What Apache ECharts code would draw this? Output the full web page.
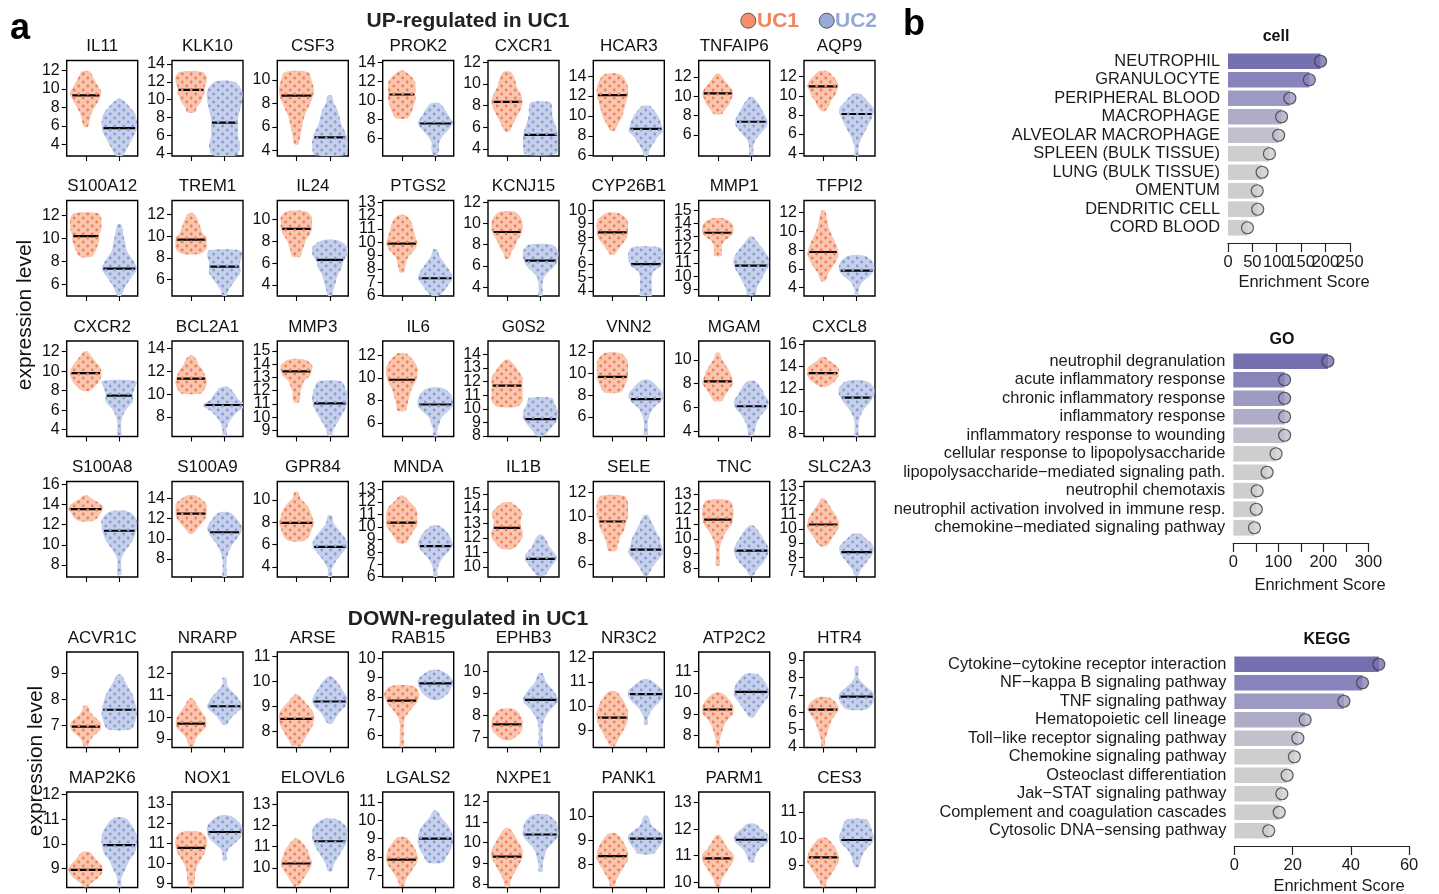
<!DOCTYPE html>
<html>
<head>
<meta charset="utf-8">
<script src="https://cdn.jsdelivr.net/npm/echarts@6/dist/echarts.min.js"></script>
<style>
  html, body { margin: 0; padding: 0; background: #fff; }
  #chart { width: 1439px; height: 894px; }
</style>
</head>
<body>
<div id="chart"></div>
<script>
// ---------- panel a: expression per gene ----------
// Each group entry: [min, max, median, width profile (9 steps, bottom -> top, base-36 digits)]
const upGenes = [
  'IL11', 'KLK10', 'CSF3', 'PROK2', 'CXCR1', 'HCAR3', 'TNFAIP6', 'AQP9',
  'S100A12', 'TREM1', 'IL24', 'PTGS2', 'KCNJ15', 'CYP26B1', 'MMP1', 'TFPI2',
  'CXCR2', 'BCL2A1', 'MMP3', 'IL6', 'G0S2', 'VNN2', 'MGAM', 'CXCL8',
  'S100A8', 'S100A9', 'GPR84', 'MNDA', 'IL1B', 'SELE', 'TNC', 'SLC2A3'
];
const upAxisRange = [
  [2.74, 13.08], [3.73, 14.37], [3.51, 11.64], [4.13, 14.18], [3.35, 12.16], [5.97, 15.58], [3.8, 13.7], [3.7, 13.7],
  [4.97, 13.3], [4.5, 13.3], [2.98, 11.76], [5.97, 13.13], [3.18, 12.16], [3.63, 10.72], [8.5, 15.75], [3.1, 13.3],
  [3.3, 13.1], [6.3, 14.64], [8.55, 15.74], [4.8, 13.3], [7.97, 14.98], [4.2, 13.0], [3.55, 11.6], [7.7, 16.3],
  [6.8, 16.3], [6.2, 15.7], [3.1, 11.65], [5.97, 13.65], [9.3, 15.9], [4.9, 12.9], [7.4, 13.9], [6.6, 13.33]
];
const upTicks = [
  [4, 6, 8, 10, 12], [4, 6, 8, 10, 12, 14], [4, 6, 8, 10], [6, 8, 10, 12, 14], [4, 6, 8, 10, 12], [6, 8, 10, 12, 14], [6, 8, 10, 12], [4, 6, 8, 10, 12],
  [6, 8, 10, 12], [6, 8, 10, 12], [4, 6, 8, 10], [6, 7, 8, 9, 10, 11, 12, 13], [4, 6, 8, 10, 12], [4, 5, 6, 7, 8, 9, 10], [9, 10, 11, 12, 13, 14, 15], [4, 6, 8, 10, 12],
  [4, 6, 8, 10, 12], [8, 10, 12, 14], [9, 10, 11, 12, 13, 14, 15], [6, 8, 10, 12], [8, 9, 10, 11, 12, 13, 14], [6, 8, 10, 12], [4, 6, 8, 10], [8, 10, 12, 14, 16],
  [8, 10, 12, 14, 16], [8, 10, 12, 14], [4, 6, 8, 10], [6, 7, 8, 9, 10, 11, 12, 13], [10, 11, 12, 13, 14, 15], [6, 8, 10, 12], [8, 9, 10, 11, 12, 13], [7, 8, 9, 10, 11, 12, 13]
];
const upUC1 = [
  [5.9, 11.9, 9.3, '123578642'], [8.6, 13.1, 11.1, '235677886'], [4.5, 10.65, 8.65, '123468986'], [8.1, 13.1, 10.6, '356777751'],
  [5.6, 11.1, 8.35, '135787542'], [8.5, 14.2, 12.1, '135678874'], [8.15, 12.3, 10.3, '246787531'], [8.4, 12.6, 11.0, '134678752'],
  [8.4, 12.2, 10.2, '356778886'], [8.4, 12.15, 9.7, '588865431'], [6.6, 10.75, 9.15, '234578885'], [7.75, 12.0, 9.9, '123687652'],
  [6.7, 11.1, 9.2, '124578874'], [6.7, 9.8, 8.35, '135788873'], [11.55, 14.4, 13.3, '222368873'], [4.7, 12.2, 7.8, '136875321'],
  [8.0, 12.0, 9.8, '257887531'], [10.05, 13.35, 11.35, '578876431'], [11.1, 14.35, 13.45, '122347884'], [7.1, 12.2, 9.85, '234578862'],
  [10.15, 13.6, 11.7, '588888641'], [8.25, 11.9, 9.7, '467888874'], [6.55, 10.6, 8.2, '246876421'], [12.2, 14.85, 13.4, '257888631'],
  [12.35, 14.9, 13.55, '367898631'], [10.5, 14.3, 12.5, '135788862'], [6.35, 10.7, 7.95, '478987521'], [8.7, 12.5, 10.35, '246888741'],
  [11.25, 14.45, 12.7, '368877862'], [7.1, 11.7, 9.55, '234678886'], [8.2, 12.6, 11.3, '111247886'], [8.8, 12.1, 10.3, '246887531']
];
const upUC2 = [
  [2.8, 8.9, 5.75, '246899851'], [3.8, 12.0, 7.45, '687778995'], [3.6, 8.65, 5.1, '899865421'], [4.2, 9.7, 7.55, '122479752'],
  [3.5, 8.3, 5.3, '899987665'], [6.0, 11.0, 8.7, '124698752'], [3.9, 9.9, 7.35, '112588641'], [3.7, 10.2, 8.1, '112468962'],
  [5.0, 11.2, 7.35, '136974321'], [4.5, 8.7, 7.2, '124688898'], [3.0, 8.1, 6.3, '123467994'], [6.0, 9.45, 7.3, '257986421'],
  [3.2, 8.0, 6.5, '111258996'], [3.63, 7.25, 6.0, '333348997'], [8.6, 13.0, 10.8, '235799741'], [3.2, 7.4, 5.8, '112479984'],
  [3.4, 9.0, 7.5, '111247789'], [6.4, 10.6, 9.05, '11247b752'], [8.6, 12.7, 11.05, '124689986'], [4.8, 9.1, 7.65, '112369984'],
  [8.0, 10.8, 9.25, '246899876'], [4.3, 9.4, 7.65, '111248962'], [3.6, 8.2, 6.1, '123589752'], [7.7, 12.7, 11.2, '111247995'],
  [7.0, 13.3, 11.4, '111368995'], [6.2, 12.6, 10.65, '111247973'], [3.1, 8.6, 5.8, '113698521'], [6.0, 10.1, 8.45, '112479862'],
  [9.4, 12.2, 10.55, '246886431'], [5.0, 10.1, 7.2, '136987531'], [7.5, 10.9, 9.2, '136898641'], [6.7, 9.65, 8.35, '124689852']
];

const downGenes = [
  'ACVR1C', 'NRARP', 'ARSE', 'RAB15', 'EPHB3', 'NR3C2', 'ATP2C2', 'HTR4',
  'MAP2K6', 'NOX1', 'ELOVL6', 'LGALS2', 'NXPE1', 'PANK1', 'PARM1', 'CES3'
];
const downAxisRange = [
  [6.15, 9.82], [8.6, 13.0], [7.35, 11.19], [5.37, 10.33], [6.56, 10.86], [8.3, 12.24], [7.43, 11.93], [3.97, 9.46],
  [8.24, 12.1], [8.78, 13.6], [9.07, 13.57], [6.34, 11.53], [7.82, 12.47], [7.06, 10.99], [9.8, 13.4], [8.18, 11.74]
];
const downTicks = [
  [7, 8, 9], [9, 10, 11, 12], [8, 9, 10, 11], [6, 7, 8, 9, 10], [7, 8, 9, 10], [9, 10, 11, 12], [8, 9, 10, 11], [4, 5, 6, 7, 8, 9],
  [9, 10, 11, 12], [9, 10, 11, 12, 13], [10, 11, 12, 13], [7, 8, 9, 10, 11], [8, 9, 10, 11, 12], [8, 9, 10], [10, 11, 12, 13], [9, 10, 11]
];
const downUC1 = [
  [6.2, 7.75, 6.95, '124787421'], [8.65, 10.85, 9.7, '124787531'], [7.4, 9.47, 8.5, '246899741'], [5.4, 8.55, 7.8, '111125896'],
  [6.9, 8.3, 7.6, '257888763'], [8.35, 10.6, 9.53, '135788752'], [7.45, 10.0, 9.22, '112358862'], [4.05, 6.85, 6.15, '112346873'],
  [8.25, 9.67, 8.95, '136898642'], [8.8, 11.58, 10.78, '122357885'], [9.1, 11.37, 10.2, '135787641'], [6.4, 9.08, 7.85, '124688752'],
  [7.85, 10.7, 9.32, '124688641'], [7.1, 9.28, 8.35, '124688752'], [9.85, 11.77, 10.9, '124688531'], [8.2, 10.02, 9.3, '124688752']
];
const downUC2 = [
  [6.85, 8.95, 7.6, '689987531'], [9.65, 11.8, 10.5, '136986311'], [8.3, 10.2, 9.2, '135898641'], [7.85, 9.4, 8.7, '257899862'],
  [6.6, 9.9, 8.7, '111259731'], [9.25, 11.1, 10.5, '112479962'], [8.85, 10.9, 10.05, '135799863'], [6.15, 8.6, 6.9, '589963111'],
  [8.25, 11.05, 9.95, '113589973'], [10.15, 12.4, 11.58, '112589973'], [9.85, 12.3, 11.25, '124689983'], [7.7, 10.5, 9.0, '468998631'],
  [8.6, 11.35, 10.4, '112369984'], [8.45, 10.0, 9.07, '468996321'], [10.75, 12.2, 11.6, '123589852'], [8.95, 10.72, 9.95, '123589875']
];

// ---------- panel b: enrichment ----------
const cellTerms = ['NEUTROPHIL', 'GRANULOCYTE', 'PERIPHERAL BLOOD', 'MACROPHAGE', 'ALVEOLAR MACROPHAGE',
  'SPLEEN (BULK TISSUE)', 'LUNG (BULK TISSUE)', 'OMENTUM', 'DENDRITIC CELL', 'CORD BLOOD'];
const cellScores = [190, 167, 127, 110, 104, 85, 70, 60, 61, 40];
const cellTickValues = [0, 50, 100, 150, 200, 250];

const goTerms = ['neutrophil degranulation', 'acute inflammatory response', 'chronic inflammatory response',
  'inflammatory response', 'inflammatory response to wounding', 'cellular response to lipopolysaccharide',
  'lipopolysaccharide\u2212mediated signaling path.', 'neutrophil chemotaxis',
  'neutrophil activation involved in immune resp.', 'chemokine\u2212mediated signaling pathway'];
const goScores = [210, 114, 114, 114, 114, 95, 75, 53, 51, 47];
const goTickValues = [0, 50, 100, 150, 200, 250, 300];
const goLabelValues = [0, 100, 200, 300];

const keggTerms = ['Cytokine\u2212cytokine receptor interaction', 'NF\u2212kappa B signaling pathway', 'TNF signaling pathway',
  'Hematopoietic cell lineage', 'Toll\u2212like receptor signaling pathway', 'Chemokine signaling pathway',
  'Osteoclast differentiation', 'Jak\u2212STAT signaling pathway', 'Complement and coagulation cascades',
  'Cytosolic DNA\u2212sensing pathway'];
const keggScores = [49.6, 44, 37.6, 24.3, 21.8, 20.6, 18.1, 16.3, 15.4, 11.8];
const keggTickValues = [0, 20, 40, 60];

// ---------- layout & style ----------
const FONT = '"Liberation Sans", Arial, Helvetica, sans-serif';
const COL_X = [66.7, 172, 277.3, 382.7, 488, 593.3, 698.7, 804];
const BOX_W = 71, BOX_H = 95.5;
const UP_ROW_Y = [60.5, 200.5, 341, 481.5];
const DOWN_ROW_Y = [652, 792];
const X_MIN = 0.43, X_MAX = 2.55;
const HALF_STEP = 0.058;           // half-width (x units) per profile step
const BAR_AXIS_OFFSET = 6;
const SHADES = ['#7571b0', '#8884bb', '#9c99c2', '#aeacc7', '#c1c0cd', '#cecece', '#cecece', '#cecece', '#cecece', '#cecece'];

function dotPattern(color) {
  const c = document.createElement('canvas');
  c.width = 9; c.height = 8;
  const g = c.getContext('2d');
  g.fillStyle = color;
  [[2.2, 2], [6.7, 6]].forEach(([x, y]) => { g.beginPath(); g.arc(x, y, 1.4, 0, Math.PI * 2); g.fill(); });
  return { image: c, repeat: 'repeat' };
}
const UC1_STYLE = { fill: '#f8c5af', dots: dotPattern('#f07e56') };
const UC2_STYLE = { fill: '#c6d0ea', dots: dotPattern('#879dd2') };

function violinRenderer(stats, styles) {
  return function (params, api) {
    const [lo, hi, med, prof] = stats[params.dataIndex];
    const st = styles[params.dataIndex];
    const cx = api.value(0);
    const w = Array.from(prof, ch => parseInt(ch, 36) * HALF_STEP);
    const n = w.length;
    const right = [], left = [];
    for (let i = 0; i < n; i++) {
      const y = lo + (hi - lo) * i / (n - 1);
      right.push(api.coord([cx + w[i], y]));
      left.unshift(api.coord([cx - w[i], y]));
    }
    const pts = right.concat(left);
    const t = (med - lo) / (hi - lo) * (n - 1);
    const i0 = Math.max(0, Math.min(n - 2, Math.floor(t)));
    const wm = (w[i0] + (w[i0 + 1] - w[i0]) * (t - i0)) * 0.92;
    const a = api.coord([cx - wm, med]);
    const b = api.coord([cx + wm, med]);
    return {
      type: 'group',
      children: [
        { type: 'polygon', shape: { points: pts, smooth: 0.3 }, style: { fill: st.fill } },
        { type: 'line', shape: { x1: a[0], y1: a[1], x2: b[0], y2: b[1] }, style: { stroke: '#000', lineWidth: 2.2 } },
        { type: 'polygon', shape: { points: pts, smooth: 0.3 }, style: { fill: st.dots } }
      ]
    };
  };
}

const grids = [], xAxes = [], yAxes = [], series = [], graphics = [];
const yLabelJobs = [];   // value-axis tick labels placed from the axis scale after layout
const xLabelJobs = [];

function addViolinPanel(gene, range, ticks, s1, s2, left, top) {
  const g = grids.length;
  grids.push({ left, top, width: BOX_W, height: BOX_H, show: true, borderColor: '#000', borderWidth: 1.4, backgroundColor: 'transparent' });
  xAxes.push({
    gridIndex: g, type: 'value', min: X_MIN, max: X_MAX,
    axisLine: { show: false }, splitLine: { show: false }, axisLabel: { show: false },
    axisTick: { show: true, customValues: [1, 2], length: 5, lineStyle: { color: '#000', width: 1.1 } }
  });
  yAxes.push({
    gridIndex: g, type: 'value', min: range[0], max: range[1],
    axisLine: { show: false }, splitLine: { show: false }, axisLabel: { show: false },
    axisTick: { show: true, customValues: ticks, length: 5, lineStyle: { color: '#000', width: 1.1 } }
  });
  yLabelJobs.push({ g, ticks, x: left - 7 });
  series.push({
    type: 'custom', xAxisIndex: g, yAxisIndex: g, clip: true, silent: true,
    encode: { x: 0, y: [1, 2, 3] },
    data: [[1, s1[0], s1[1], s1[2]], [2, s2[0], s2[1], s2[2]]],
    renderItem: violinRenderer([s1, s2], [UC1_STYLE, UC2_STYLE])
  });
  graphics.push({
    type: 'text', x: left + BOX_W / 2, y: top - 14,
    style: { text: gene, font: '17px ' + FONT, fill: '#111', align: 'center', verticalAlign: 'middle' }
  });
}

upGenes.forEach((gene, i) => {
  addViolinPanel(gene, upAxisRange[i], upTicks[i], upUC1[i], upUC2[i], COL_X[i % 8], UP_ROW_Y[Math.floor(i / 8)]);
});
downGenes.forEach((gene, i) => {
  addViolinPanel(gene, downAxisRange[i], downTicks[i], downUC1[i], downUC2[i], COL_X[i % 8], DOWN_ROW_Y[Math.floor(i / 8)]);
});

function addEnrichment(terms, scores, box, maxV, tickVals, labelVals, title, titlePos, namePos) {
  const g = grids.length;
  grids.push({ left: box[0], top: box[1], width: box[2], height: box[3] });
  yAxes.push({
    gridIndex: g, type: 'category', data: terms, inverse: true,
    axisLine: { show: false }, axisTick: { show: false },
    axisLabel: { interval: 0, fontSize: 16.4, color: '#1a1a1a', margin: 8, fontFamily: FONT }
  });
  xAxes.push({
    gridIndex: g, type: 'value', min: 0, max: maxV, position: 'bottom', offset: BAR_AXIS_OFFSET,
    axisLine: { show: true, lineStyle: { color: '#222', width: 1.2 } },
    axisTick: { show: true, customValues: tickVals, length: 9, lineStyle: { color: '#222', width: 1.2 } },
    axisLabel: { show: false },
    splitLine: { show: false }
  });
  xLabelJobs.push({ g, ticks: labelVals, y: box[1] + box[3] + BAR_AXIS_OFFSET + 19 });
  series.push({
    type: 'bar', xAxisIndex: g, yAxisIndex: g, barCategoryGap: '15%', silent: true,
    data: scores.map((v, i) => ({ value: v, itemStyle: { color: SHADES[i] } }))
  });
  series.push({
    type: 'scatter', xAxisIndex: g, yAxisIndex: g, symbolSize: 12, silent: true, z: 3,
    itemStyle: { borderColor: '#3a3a3a', borderWidth: 1.2 },
    data: scores.map((v, i) => ({ value: [v, i], itemStyle: { color: SHADES[i] } }))
  });
  graphics.push({
    type: 'text', x: titlePos[0], y: titlePos[1],
    style: { text: title, font: 'bold 16px ' + FONT, fill: '#111', align: 'center', verticalAlign: 'middle' }
  });
  graphics.push({
    type: 'text', x: namePos[0], y: namePos[1],
    style: { text: 'Enrichment Score', font: '16.5px ' + FONT, fill: '#1a1a1a', align: 'center', verticalAlign: 'middle' }
  });
}

addEnrichment(cellTerms, cellScores, [1228, 52, 121.8, 185], 250, cellTickValues, cellTickValues, 'cell', [1276, 37], [1304, 282]);
addEnrichment(goTerms, goScores, [1233.3, 352, 135.1, 185], 300, goTickValues, goLabelValues, 'GO', [1282, 339.5], [1320, 585]);
addEnrichment(keggTerms, keggScores, [1234.4, 655, 174.7, 185], 60, keggTickValues, keggTickValues, 'KEGG', [1327, 640], [1339, 886]);

// headings, legend, panel letters, axis titles
graphics.push(
  { type: 'text', x: 10, y: 29, style: { text: 'a', font: 'bold 36px ' + FONT, fill: '#000', align: 'left', verticalAlign: 'middle' } },
  { type: 'text', x: 903, y: 25, style: { text: 'b', font: 'bold 36px ' + FONT, fill: '#000', align: 'left', verticalAlign: 'middle' } },
  { type: 'text', x: 468, y: 21, style: { text: 'UP-regulated in UC1', font: 'bold 21px ' + FONT, fill: '#222', align: 'center', verticalAlign: 'middle' } },
  { type: 'text', x: 468, y: 619, style: { text: 'DOWN-regulated in UC1', font: 'bold 21px ' + FONT, fill: '#222', align: 'center', verticalAlign: 'middle' } },
  { type: 'circle', shape: { cx: 748.3, cy: 20.7, r: 7.5 }, style: { fill: '#f5906d', stroke: '#555', lineWidth: 1 } },
  { type: 'text', x: 757, y: 21, style: { text: 'UC1', font: 'bold 21px ' + FONT, fill: '#f4835c', align: 'left', verticalAlign: 'middle' } },
  { type: 'circle', shape: { cx: 826.7, cy: 20.7, r: 7.5 }, style: { fill: '#9aaad6', stroke: '#555', lineWidth: 1 } },
  { type: 'text', x: 835, y: 21, style: { text: 'UC2', font: 'bold 21px ' + FONT, fill: '#95a8d8', align: 'left', verticalAlign: 'middle' } },
  { type: 'text', x: 25, y: 315, rotation: Math.PI / 2, style: { text: 'expression level', font: '21px ' + FONT, fill: '#111', align: 'center', verticalAlign: 'middle' } },
  { type: 'text', x: 36, y: 761, rotation: Math.PI / 2, style: { text: 'expression level', font: '21px ' + FONT, fill: '#111', align: 'center', verticalAlign: 'middle' } }
);

const chart = echarts.init(document.getElementById('chart'), null, { renderer: 'canvas' });
chart.setOption({
  animation: false,
  backgroundColor: '#fff',
  textStyle: { fontFamily: FONT },
  grid: grids,
  xAxis: xAxes,
  yAxis: yAxes,
  series: series,
  graphic: { elements: graphics }
});

// Tick labels: every value is placed through its axis scale, none hidden on overlap.
const tickLabels = [];
yLabelJobs.forEach(({ g, ticks, x }) => {
  ticks.forEach(v => {
    const y = chart.convertToPixel({ yAxisIndex: g }, v);
    tickLabels.push({
      type: 'text', x, y,
      style: { text: String(v), font: '16px ' + FONT, fill: '#111', align: 'right', verticalAlign: 'middle' }
    });
  });
});
xLabelJobs.forEach(({ g, ticks, y }) => {
  ticks.forEach(v => {
    const x = chart.convertToPixel({ xAxisIndex: g }, v);
    tickLabels.push({
      type: 'text', x, y,
      style: { text: String(v), font: '16.5px ' + FONT, fill: '#1a1a1a', align: 'center', verticalAlign: 'middle' }
    });
  });
});
chart.setOption({ graphic: { elements: graphics.concat(tickLabels) } });
</script>
</body>
</html>
